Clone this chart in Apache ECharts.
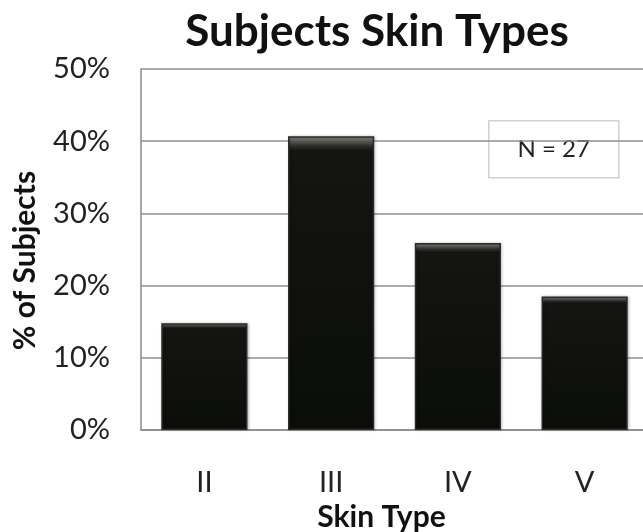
<!DOCTYPE html>
<html>
<head>
<meta charset="utf-8">
<script src="https://cdn.jsdelivr.net/npm/echarts@6/dist/echarts.min.js"></script>
<style>
  html, body { margin: 0; padding: 0; background: #ffffff; }
  #chart { width: 643px; height: 532px; }
</style>
</head>
<body>
<div id="chart"></div>
<script>
// Share of subjects by Fitzpatrick skin type (N = 27)
const skinTypes = ['II', 'III', 'IV', 'V'];
const subjectShare = [0.148, 0.407, 0.259, 0.185];
const yTicks = [0, 0.1, 0.2, 0.3, 0.4, 0.5];
const sampleNote = 'N = 27';

const FONT = 'Lato, "Open Sans", sans-serif';
const chart = echarts.init(document.getElementById('chart'), null, { renderer: 'canvas' });

chart.setOption({
  backgroundColor: '#ffffff',
  animation: false,
  title: {
    text: 'Subjects Skin Types',
    left: 372,
    textAlign: 'center',
    top: 5,
    textStyle: { fontFamily: FONT, fontWeight: 'bold', fontSize: 44, color: '#111' }
  },
  grid: { left: 141, right: -5, top: 69, bottom: 102, containLabel: false, outerBoundsMode: 'none' },
  xAxis: {
    type: 'category',
    data: skinTypes,
    name: 'Skin Type',
    nameLocation: 'middle',
    nameGap: 71,
    nameTextStyle: { fontFamily: FONT, fontWeight: 'bold', fontSize: 30, color: '#111',
                     padding: [0, 26, 0, 0] },
    axisLine: { show: true, lineStyle: { color: '#8a8a8a', width: 1.5 } },
    axisTick: { show: false },
    axisLabel: { fontFamily: FONT, fontSize: 29, color: '#222', margin: 38 }
  },
  yAxis: {
    type: 'value',
    min: yTicks[0],
    max: yTicks[yTicks.length - 1],
    interval: 0.1,
    name: '% of Subjects',
    nameLocation: 'middle',
    nameGap: 101,
    nameRotate: 90,
    nameTextStyle: { fontFamily: FONT, fontWeight: 'bold', fontSize: 30, color: '#111',
                     padding: [0, 22, 0, 0] },
    axisLine: { show: true, lineStyle: { color: '#8a8a8a', width: 1.5 } },
    axisTick: { show: false },
    axisLabel: {
      fontFamily: FONT, fontSize: 29, color: '#222', margin: 31,
      formatter: v => Math.round(v * 100) + '%'
    },
    splitLine: { show: true, lineStyle: { color: '#8f8f8f', width: 1.5 } }
  },
  series: [{
    type: 'bar',
    data: subjectShare,
    barCategoryGap: '32%',
    itemStyle: {
      color: {
        type: 'linear', x: 0, y: 0, x2: 0, y2: 1,
        colorStops: [
          { offset: 0, color: '#8a8682' },
          { offset: 0.035, color: '#2a2927' },
          { offset: 0.05, color: '#141513' },
          { offset: 1, color: '#0b0d0a' }
        ]
      },
      borderColor: '#2a2a28',
      borderWidth: 1.5,
      shadowColor: 'rgba(0,0,0,0.25)',
      shadowBlur: 3,
      shadowOffsetX: 1
    }
  }],
  graphic: [{
    type: 'group',
    left: 488,
    top: 120,
    children: [
      { type: 'rect', shape: { x: 0, y: 0, width: 130, height: 57 },
        style: { fill: '#ffffff', stroke: '#cfd2cc', lineWidth: 1.5 } },
      { type: 'text', x: 65, y: 28.5,
        style: { text: sampleNote, fontFamily: FONT, fontSize: 24, fill: '#222',
                 textAlign: 'center', textVerticalAlign: 'middle' } }
    ]
  }]
});
</script>
</body>
</html>
